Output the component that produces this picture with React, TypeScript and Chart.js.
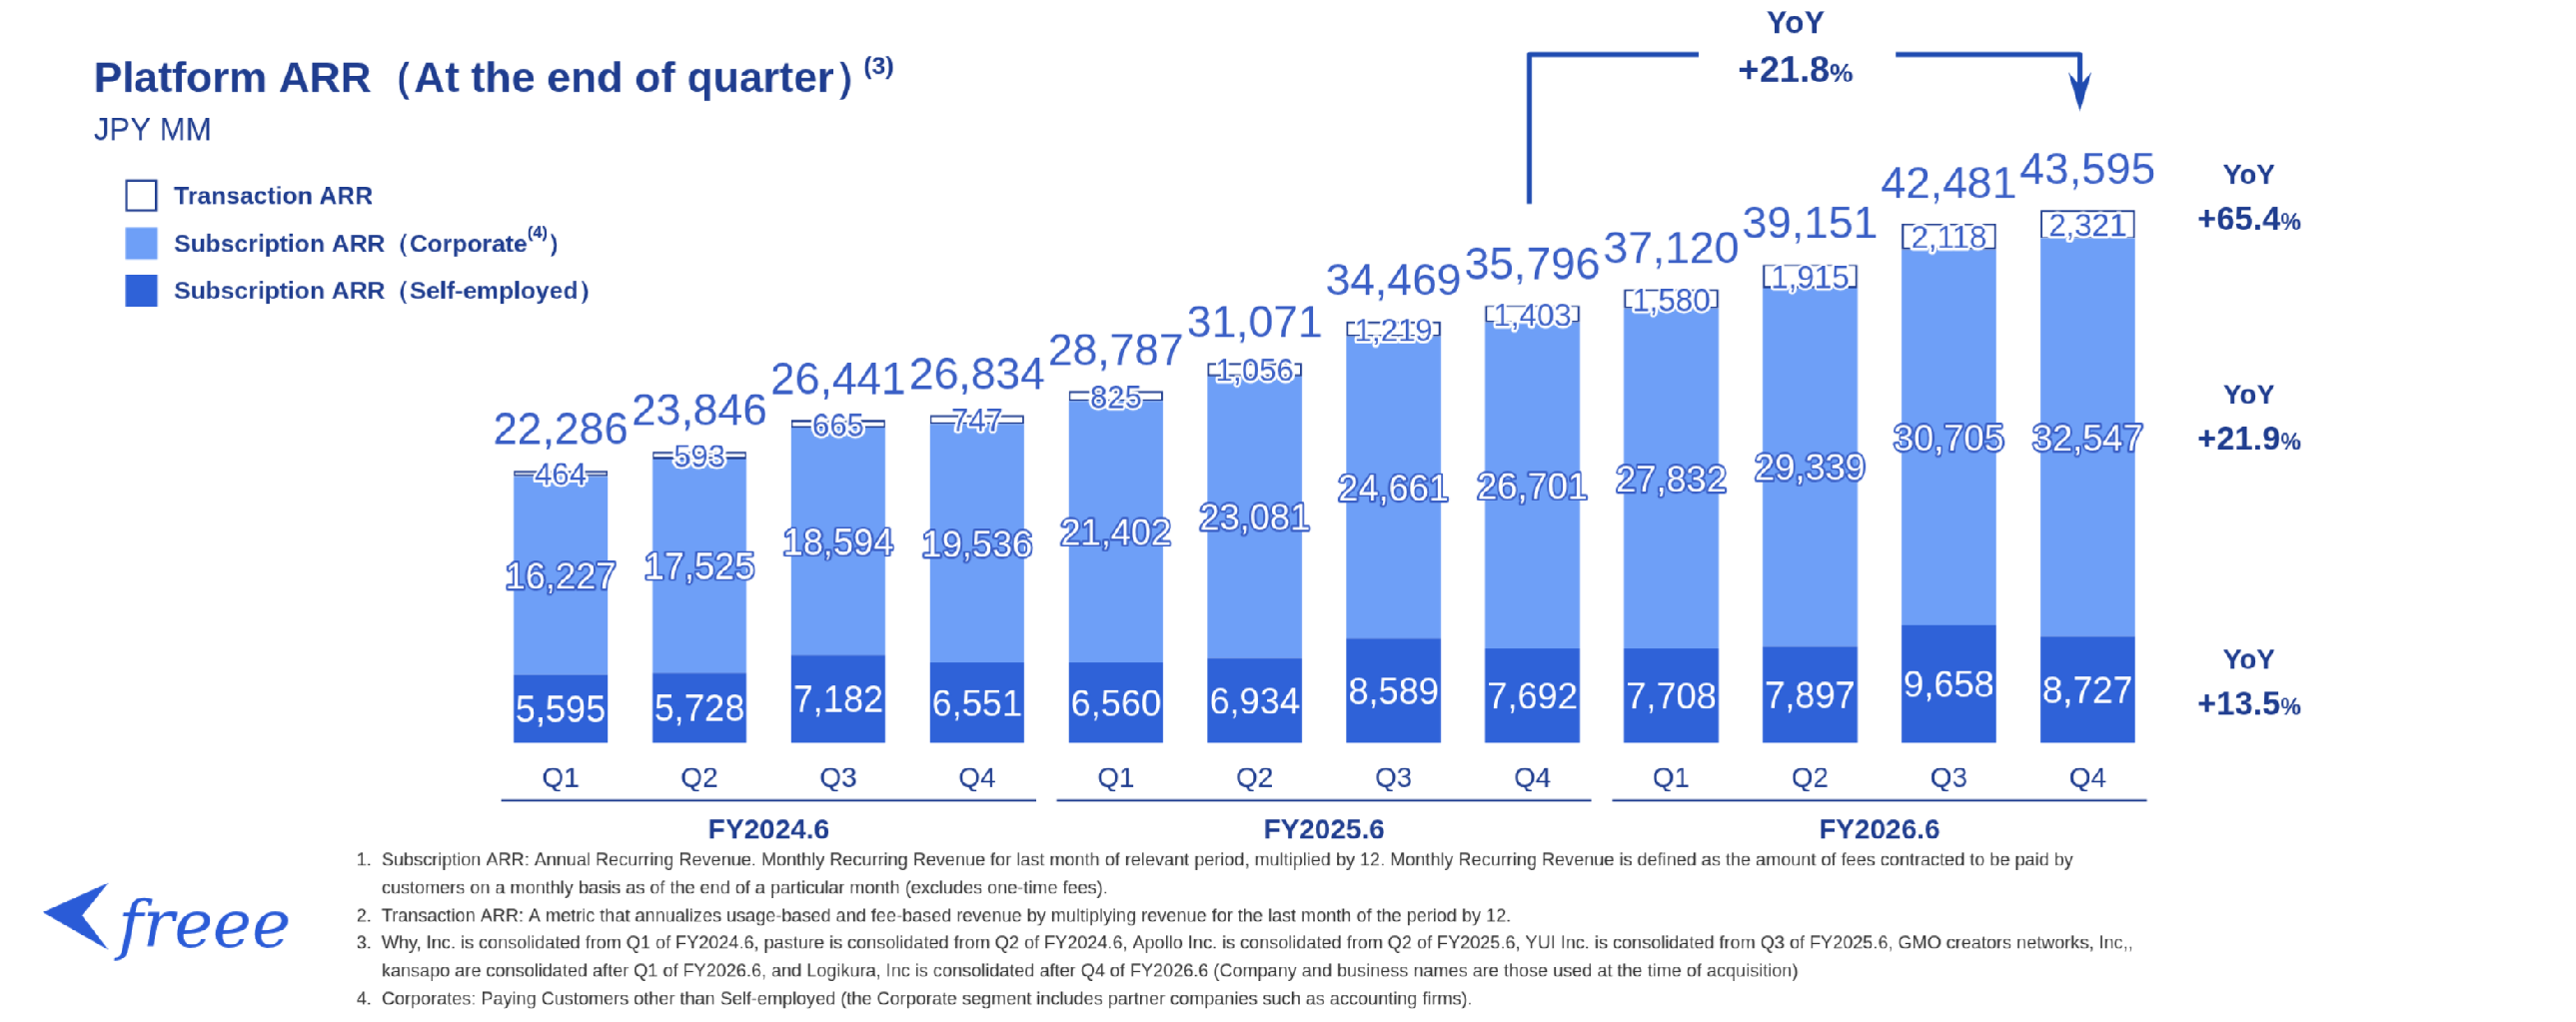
import React, { useEffect, useRef } from "react";
import { Chart, registerables } from "chart.js";
Chart.register(...registerables);

const quarters = ["Q1","Q2","Q3","Q4","Q1","Q2","Q3","Q4","Q1","Q2","Q3","Q4"];
const fiscalYears = ["FY2024.6","FY2025.6","FY2026.6"];
const selfEmployed = [5595,5728,7182,6551,6560,6934,8589,7692,7708,7897,9658,8727];
const corporate = [16227,17525,18594,19536,21402,23081,24661,26701,27832,29339,30705,32547];
const transaction = [464,593,665,747,825,1056,1219,1403,1580,1915,2118,2321];
const totals = [22286,23846,26441,26834,28787,31071,34469,35796,37120,39151,42481,43595];
const yoyRight = [["+65.4","%"],["+21.9","%"],["+13.5","%"]];
const footnotes = [
  "1.  Subscription ARR: Annual Recurring Revenue. Monthly Recurring Revenue for last month of relevant period, multiplied by 12. Monthly Recurring Revenue is defined as the amount of fees contracted to be paid by",
  "     customers on a monthly basis as of the end of a particular month (excludes one-time fees).",
  "2.  Transaction ARR: A metric that annualizes usage-based and fee-based revenue by multiplying revenue for the last month of the period by 12.",
  "3.  Why, Inc. is consolidated from Q1 of FY2024.6, pasture is consolidated from Q2 of FY2024.6, Apollo Inc. is consolidated from Q2 of FY2025.6, YUI Inc. is consolidated from Q3 of FY2025.6, GMO creators networks, Inc,,",
  "     kansapo are consolidated after Q1 of FY2026.6, and Logikura, Inc is consolidated after Q4 of FY2026.6 (Company and business names are those used at the time of acquisition)",
  "4.  Corporates: Paying Customers other than Self-employed (the Corporate segment includes partner companies such as accounting firms).",
];

const NAVY = "#1f3d8f";
const LBL = "#3a5fc6";
const SANS = "'Liberation Sans', Arial, sans-serif";
const fmt = (v: number) => v.toLocaleString("en-US");

const W = 1568, H = 622;
const S = 2578 / 1568;

const deco = {
  id: "deco",
  afterDraw(chart: any) {
    const ctx = chart.ctx as CanvasRenderingContext2D;
    ctx.save();
    ctx.textBaseline = "alphabetic";
    ctx.fillStyle = NAVY;
    ctx.font = `bold 26px ${SANS}`;
    ctx.textAlign = "left";
    const t = "Platform ARR（At the end of quarter）";
    ctx.fillText(t, 57, 56);
    const tw = ctx.measureText(t).width;
    ctx.font = `bold 15px ${SANS}`;
    ctx.fillText("(3)", 57 + tw - 8, 45);
    ctx.font = `19px ${SANS}`;
    ctx.fillText("JPY MM", 57, 85);
    const leg: [string, string, string][] = [
      ["#ffffff", NAVY, "Transaction ARR"],
      ["#6e9ff7", "#6e9ff7", "Subscription ARR（Corporate"],
      ["#2f62d8", "#2f62d8", "Subscription ARR（Self-employed）"],
    ];
    leg.forEach(([f, s, txt], i) => {
      const y = 110 + i * 29;
      ctx.fillStyle = f; ctx.fillRect(77, y, 18, 18);
      ctx.strokeStyle = s; ctx.lineWidth = 1.5; ctx.strokeRect(77, y, 18, 18);
      ctx.fillStyle = NAVY;
      ctx.font = `bold 15px ${SANS}`;
      ctx.textAlign = "left";
      ctx.fillText(txt, 106, y + 14);
      if (i === 1) {
        const w = ctx.measureText(txt).width;
        ctx.font = `bold 10px ${SANS}`;
        ctx.fillText("(4)", 106 + w, y + 6);
        const w2 = ctx.measureText("(4)").width;
        ctx.font = `bold 15px ${SANS}`;
        ctx.fillText("）", 106 + w + w2, y + 14);
      }
    });
    const m0 = chart.getDatasetMeta(0).data;
    const m1 = chart.getDatasetMeta(1).data;
    const m2 = chart.getDatasetMeta(2).data;
    const outlined = (txt: string, x: number, y: number, size: number, fill: string, stroke: string, lw: number) => {
      ctx.font = `${size}px ${SANS}`;
      ctx.textAlign = "center";
      ctx.lineJoin = "round";
      ctx.strokeStyle = stroke; ctx.lineWidth = lw; ctx.strokeText(txt, x, y);
      ctx.fillStyle = fill; ctx.fillText(txt, x, y);
    };
    for (let i = 0; i < quarters.length; i++) {
      const b0 = m0[i], b1 = m1[i], b2 = m2[i];
      outlined(fmt(selfEmployed[i]), b0.x, (b0.y + b0.base) / 2 + 8, 22, "#ffffff", "#2f62d8", 1);
      outlined(fmt(corporate[i]), b1.x, (b1.y + b1.base) / 2 + 8, 22, "#ffffff", LBL, 2.5);
      outlined(fmt(transaction[i]), b2.x, (b2.y + b2.base) / 2 + 7, 19, LBL, "#ffffff", 3);
      outlined(fmt(totals[i]), b2.x, b2.y - 16, 27, LBL, "#ffffff", 4);
    }
    const xs = chart.scales.x;
    ctx.strokeStyle = NAVY; ctx.lineWidth = 1.5;
    for (let g = 0; g < 3; g++) {
      const l = xs.getPixelForValue(g * 4) - 36;
      const r = xs.getPixelForValue(g * 4 + 3) + 36;
      ctx.beginPath(); ctx.moveTo(l, 487); ctx.lineTo(r, 487); ctx.stroke();
      ctx.fillStyle = NAVY; ctx.textAlign = "center";
      ctx.font = `bold 17px ${SANS}`;
      ctx.fillText(fiscalYears[g], (l + r) / 2, 510);
    }
    const yoyAt = (x: number, y: number, num: string, pct: string, size: number, ysize: number) => {
      ctx.fillStyle = NAVY; ctx.textAlign = "center";
      ctx.font = `bold ${ysize}px ${SANS}`;
      ctx.fillText("YoY", x, y);
      ctx.font = `bold ${size}px ${SANS}`;
      const w1 = ctx.measureText(num).width;
      const ps = Math.round(size * 0.72);
      ctx.font = `bold ${ps}px ${SANS}`;
      const w2 = ctx.measureText(pct).width;
      ctx.textAlign = "left";
      const sx = x - (w1 + w2) / 2;
      ctx.font = `bold ${size}px ${SANS}`;
      ctx.fillText(num, sx, y + size + 8);
      ctx.font = `bold ${ps}px ${SANS}`;
      ctx.fillText(pct, sx + w1, y + size + 8);
    };
    yoyAt(1369, 112, yoyRight[0][0], yoyRight[0][1], 20, 17);
    yoyAt(1369, 246, yoyRight[1][0], yoyRight[1][1], 20, 17);
    yoyAt(1369, 407, yoyRight[2][0], yoyRight[2][1], 20, 17);
    yoyAt(1093, 20, "+21.8", "%", 22, 19);
    ctx.strokeStyle = "#1f4bb0"; ctx.lineWidth = 3;
    ctx.beginPath(); ctx.moveTo(931, 124); ctx.lineTo(931, 33); ctx.lineTo(1034, 33); ctx.stroke();
    ctx.beginPath(); ctx.moveTo(1154, 33); ctx.lineTo(1266, 33); ctx.lineTo(1266, 55); ctx.stroke();
    ctx.fillStyle = "#1f4bb0";
    ctx.beginPath(); ctx.moveTo(1259, 44); ctx.lineTo(1266, 68); ctx.lineTo(1273, 44); ctx.lineTo(1266, 52); ctx.closePath(); ctx.fill();
    ctx.fillStyle = "#333"; ctx.textAlign = "left";
    ctx.font = `11px ${SANS}`;
    footnotes.forEach((f, i) => ctx.fillText(f, 217, 527 + i * 16.8));
    ctx.fillStyle = "#2a5bd7";
    ctx.font = `italic 40px 'DejaVu Serif', serif`;
    ctx.fillText("freee", 72, 576);
    ctx.beginPath(); ctx.moveTo(26, 555); ctx.lineTo(66, 537); ctx.lineTo(50, 557); ctx.lineTo(66, 578); ctx.closePath(); ctx.fill();
    ctx.restore();
  },
};

export default function App() {
  const ref = useRef<HTMLCanvasElement>(null);
  useEffect(() => {
    const ymax = 58000;
    const chart = new Chart(ref.current!, {
      type: "bar",
      data: {
        labels: quarters,
        datasets: [
          { label: "Self", data: selfEmployed, backgroundColor: "#2f62d8", borderWidth: 0 },
          { label: "Corp", data: corporate, backgroundColor: "#6e9ff7", borderWidth: 0 },
          { label: "Trans", data: transaction, backgroundColor: "#ffffff", borderColor: NAVY, borderWidth: 1.2, borderSkipped: false },
        ],
      },
      options: {
        animation: false,
        responsive: false,
        devicePixelRatio: S,
        layout: { padding: { left: 299, right: W - 1313, top: 452 - ymax / 134.5, bottom: 0 } },
        plugins: { legend: { display: false }, tooltip: { enabled: false } },
        scales: {
          x: {
            stacked: true,
            grid: { display: false },
            border: { display: false },
            ticks: { color: NAVY, font: { size: 17, family: SANS }, padding: 4 },
            afterFit: (s: any) => { s.height = H - 452; },
          } as any,
          y: { stacked: true, display: false, min: 0, max: ymax },
        },
        datasets: { bar: { categoryPercentage: 1, barPercentage: 0.68 } } as any,
      },
      plugins: [deco],
    });
    return () => chart.destroy();
  }, []);
  return (
    <div style={{ position: "absolute", left: 0, top: 0, width: W, height: H, background: "#fff", transform: `scale(${S})`, transformOrigin: "0 0" }}>
      <canvas ref={ref} style={{ width: W, height: H, display: "block" }} />
    </div>
  );
}
